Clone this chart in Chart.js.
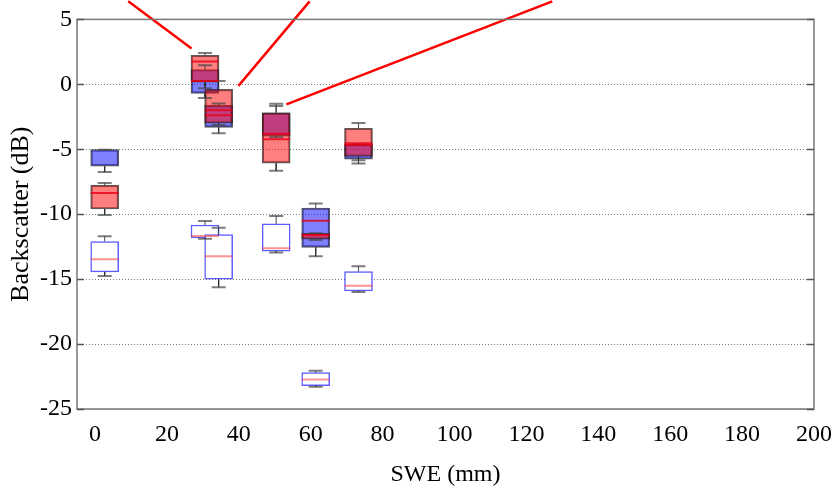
<!DOCTYPE html>
<html lang="en">
<head>
  <meta charset="UTF-8">
  <title>Backscatter vs SWE</title>
  <script src="https://cdn.jsdelivr.net/npm/chart.js"></script>
  <style>
    html, body { margin: 0; padding: 0; background: #fff; }
    .chart-box { width: 835px; height: 491px; position: relative; }
  </style>
</head>
<body>
  <div class="chart-box">
    <canvas id="swePlot"></canvas>
  </div>
  <script>
    // box positions along the SWE axis (mm)
    const sweMm = [2.7, 30.6, 34.4, 50.4, 61.4, 73.3];

    // filled blue boxes
    const blueQ1  = [-6.30, -0.70, -3.31, -4.00, -12.55, -5.77];
    const blueQ3  = [-5.03,  1.14, -1.62, -2.19,  -9.52, -4.62];
    const blueMed = [ null,  0.25, -2.39, -3.80, -10.50, -4.67];
    const blueLo  = [-6.76, -1.06, -3.77, -4.08, -13.24, -6.10];
    const blueHi  = [-5.03,  1.47, -1.47, -1.67,  -9.17, -4.62];

    // filled red boxes
    const redQ1  = [-9.60,  0.17, -3.00, -6.07, -11.93, -5.56];
    const redQ3  = [-7.76,  2.24, -0.39, -2.19, -11.47, -3.38];
    const redMed = [-8.37,  1.76, -2.00, -4.23, -11.60, -4.53];
    const redLo  = [-10.06, -0.30, -3.13, -6.66, -11.98, -5.84];
    const redHi  = [-7.60,  2.42,  0.25, -1.50, -11.47, -2.98];

    // open boxes (blue outline)
    const openQ1  = [-14.44, -11.83, -15.00, -12.85, -23.20, -15.90];
    const openQ3  = [-12.10, -10.83, -11.57, -10.75, -22.20, -14.41];
    const openMed = [-13.47, -11.67, -13.24, -12.62, -22.73, -15.50];
    const openLo  = [-14.75, -11.90, -15.62, -12.95, -23.29, -16.00];
    const openHi  = [-11.70, -10.52, -11.04, -10.14, -22.06, -14.00];

    // red pointer lines: [swe, dB] start and end
    const pointerFrom = [[9.25, 6.39], [59.7, 6.39], [127.2, 6.39]];
    const pointerTo   = [[26.86, 2.76], [39.9, -0.12], [53.25, -1.54]];

    const xTicks = [0, 20, 40, 60, 80, 100, 120, 140, 160, 180, 200];
    const yTicks = [-25, -20, -15, -10, -5, 0, 5];

    const serif = "'Liberation Serif', 'DejaVu Serif', serif";

    function boxes(q1, q3, fill, edge, order) {
      return {
        type: 'bar',
        data: sweMm.map((x, i) => ({ x: x, y: [q1[i], q3[i]] })),
        backgroundColor: fill,
        borderColor: edge,
        borderWidth: 1.5,
        borderSkipped: false,
        barThickness: 28,
        grouped: false,
        order: order
      };
    }

    function medians(med, color, order) {
      return {
        type: 'line',
        showLine: false,
        data: sweMm.map((x, i) => ({ x: x, y: med[i] })),
        pointStyle: 'line',
        pointRadius: 14,
        pointBorderWidth: 2,
        pointBorderColor: color,
        order: order
      };
    }

    function caps(lo, hi, order) {
      return {
        type: 'line',
        showLine: false,
        data: sweMm.flatMap((x, i) => [{ x: x, y: lo[i] }, { x: x, y: hi[i] }]),
        pointStyle: 'line',
        pointRadius: 7,
        pointBorderWidth: 2,
        pointBorderColor: 'rgba(70,70,70,0.7)',
        order: order
      };
    }

    function stems(q1, q3, lo, hi, order) {
      return {
        type: 'line',
        data: sweMm.flatMap((x, i) => [
          { x: x, y: q3[i] }, { x: x, y: hi[i] }, { x: x, y: null },
          { x: x, y: q1[i] }, { x: x, y: lo[i] }, { x: x, y: null }
        ]),
        borderColor: 'rgba(40,40,40,0.85)',
        borderWidth: 1,
        pointRadius: 0,
        spanGaps: false,
        order: order
      };
    }

    // axes frame and inward ticks on both sides
    const framePlugin = {
      id: 'frame',
      afterDraw(chart) {
        const { ctx, chartArea: a, scales } = chart;
        ctx.save();
        ctx.strokeStyle = '#777';
        ctx.lineWidth = 1.5;
        ctx.strokeRect(a.left, a.top, a.right - a.left, a.bottom - a.top);
        ctx.strokeStyle = '#555';
        yTicks.forEach(v => {
          const py = Math.round(scales.y.getPixelForValue(v)) + 0.5;
          ctx.beginPath();
          ctx.moveTo(a.left, py); ctx.lineTo(a.left + 7, py);
          ctx.moveTo(a.right, py); ctx.lineTo(a.right - 7, py);
          ctx.stroke();
        });
        ctx.restore();
      }
    };

    new Chart(document.getElementById('swePlot'), {
      type: 'bar',
      data: {
        datasets: [
          boxes(openQ1, openQ3, '#ffffff', 'rgba(40,40,255,0.75)', 9),
          boxes(blueQ1, blueQ3, 'rgba(0,0,255,0.5)', 'rgba(30,30,50,0.75)', 8),
          boxes(redQ1, redQ3, 'rgba(255,0,0,0.5)', 'rgba(50,30,30,0.75)', 7),
          stems(openQ1, openQ3, openLo, openHi, 6),
          stems(blueQ1, blueQ3, blueLo, blueHi, 6),
          stems(redQ1, redQ3, redLo, redHi, 6),
          caps(openLo, openHi, 5),
          caps(blueLo, blueHi, 5),
          caps(redLo, redHi, 5),
          medians(openMed, 'rgba(255,60,60,0.55)', 4),
          medians(blueMed, 'rgba(230,0,20,0.8)', 3),
          medians(redMed, 'rgba(230,0,20,0.8)', 3),
          {
            type: 'line',
            data: pointerFrom.flatMap((p, i) => [
              { x: p[0], y: p[1] },
              { x: pointerTo[i][0], y: pointerTo[i][1] },
              { x: p[0], y: null }
            ]),
            borderColor: '#ff0000',
            borderWidth: 2.5,
            pointRadius: 0,
            spanGaps: false,
            clip: false,
            order: 0
          }
        ]
      },
      options: {
        responsive: true,
        maintainAspectRatio: false,
        animation: false,
        events: [],
        layout: { padding: { top: 18, right: 0, left: 0, bottom: 0 } },
        plugins: {
          legend: { display: false },
          tooltip: { enabled: false }
        },
        scales: {
          x: {
            type: 'linear',
            min: -5,
            max: 200,
            offset: false,
            grid: { display: false },
            border: { display: false },
            afterBuildTicks: axis => { axis.ticks = xTicks.map(v => ({ value: v })); },
            afterFit: axis => { axis.height = 82; },
            ticks: { color: '#000', padding: 3, maxRotation: 0, font: { family: serif, size: 24 } },
            title: {
              display: true,
              text: 'SWE (mm)',
              color: '#000',
              padding: { top: 18, bottom: 2 },
              font: { family: serif, size: 24 }
            }
          },
          y: {
            min: -25,
            max: 5,
            afterBuildTicks: axis => { axis.ticks = yTicks.map(v => ({ value: v })); },
            afterFit: axis => { axis.width = 77; },
            grid: { color: 'rgba(110,110,110,0.9)', lineWidth: 1, drawTicks: false },
            border: { display: false, dash: [1, 2] },
            ticks: { color: '#000', padding: 5, font: { family: serif, size: 24 } },
            title: {
              display: true,
              text: 'Backscatter (dB)',
              color: '#000',
              padding: { top: 6, bottom: 4 },
              font: { family: serif, size: 26 }
            }
          }
        }
      },
      plugins: [framePlugin]
    });
  </script>
</body>
</html>
